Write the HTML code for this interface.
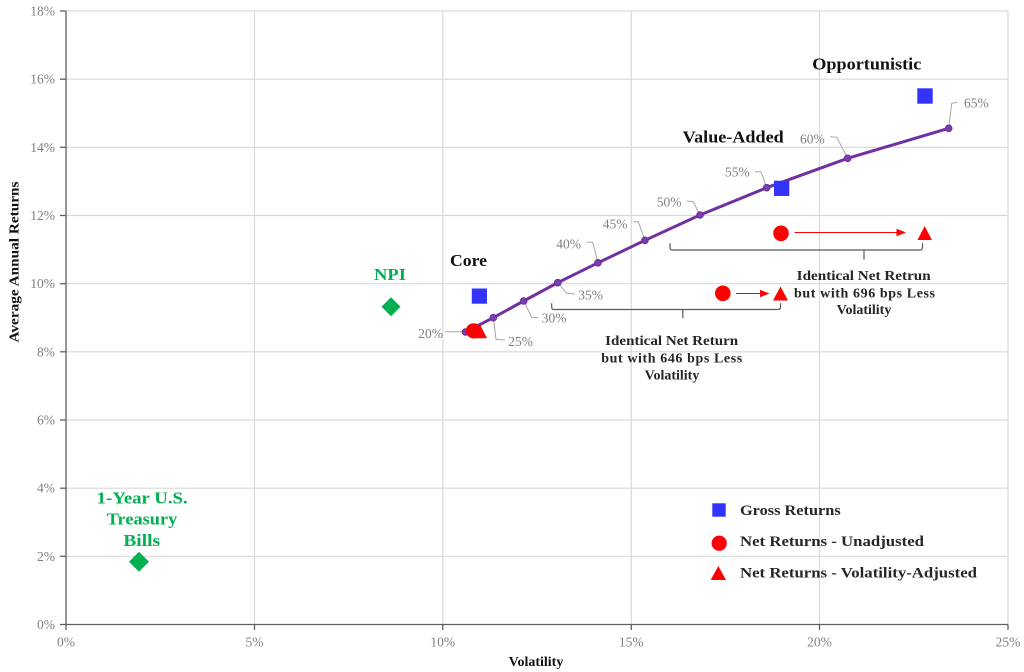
<!DOCTYPE html>
<html>
<head>
<meta charset="utf-8">
<style>
  html,body{margin:0;padding:0;background:#fff;}
  svg{display:block;}
  text{font-family:"Liberation Serif","DejaVu Serif",serif;}
  .tick{fill:#7f7f7f;font-size:13.5px;}
  .pl{fill:#7f7f7f;font-size:13.5px;}
  .cat{fill:#111;font-size:17px;font-weight:bold;}
  .grn{fill:#00B050;font-size:17px;font-weight:bold;}
  .br{fill:#262626;font-size:14px;font-weight:bold;}
  .leg{fill:#262626;font-size:15px;font-weight:bold;}
  .ax{fill:#111;font-size:14px;font-weight:bold;}
</style>
</head>
<body>
<svg width="1024" height="672" viewBox="0 0 1024 672" xmlns="http://www.w3.org/2000/svg">
  <rect width="1024" height="672" fill="#fff"/>
  <!-- gridlines -->
  <g stroke="#d9d9d9" stroke-width="1.2" fill="none">
    <line x1="66" y1="11" x2="1008" y2="11"/>
    <line x1="66" y1="79.2" x2="1008" y2="79.2"/>
    <line x1="66" y1="147.3" x2="1008" y2="147.3"/>
    <line x1="66" y1="215.5" x2="1008" y2="215.5"/>
    <line x1="66" y1="283.7" x2="1008" y2="283.7"/>
    <line x1="66" y1="351.8" x2="1008" y2="351.8"/>
    <line x1="66" y1="420" x2="1008" y2="420"/>
    <line x1="66" y1="488.2" x2="1008" y2="488.2"/>
    <line x1="66" y1="556.3" x2="1008" y2="556.3"/>
    <line x1="254.5" y1="11" x2="254.5" y2="624.5"/>
    <line x1="442.8" y1="11" x2="442.8" y2="624.5"/>
    <line x1="631.3" y1="11" x2="631.3" y2="624.5"/>
    <line x1="819.5" y1="11" x2="819.5" y2="624.5"/>
    <line x1="1008" y1="11" x2="1008" y2="624.5"/>
  </g>
  <!-- axes -->
  <g stroke="#5f5f5f" stroke-width="1.3" fill="none">
    <line x1="66" y1="11" x2="66" y2="624.5"/>
    <line x1="66" y1="624.5" x2="1008" y2="624.5"/>
    <line x1="60" y1="11" x2="66" y2="11"/>
    <line x1="60" y1="79.2" x2="66" y2="79.2"/>
    <line x1="60" y1="147.3" x2="66" y2="147.3"/>
    <line x1="60" y1="215.5" x2="66" y2="215.5"/>
    <line x1="60" y1="283.7" x2="66" y2="283.7"/>
    <line x1="60" y1="351.8" x2="66" y2="351.8"/>
    <line x1="60" y1="420" x2="66" y2="420"/>
    <line x1="60" y1="488.2" x2="66" y2="488.2"/>
    <line x1="60" y1="556.3" x2="66" y2="556.3"/>
    <line x1="60" y1="624.5" x2="66" y2="624.5"/>
    <line x1="66" y1="624.5" x2="66" y2="630"/>
    <line x1="254.5" y1="624.5" x2="254.5" y2="630"/>
    <line x1="442.8" y1="624.5" x2="442.8" y2="630"/>
    <line x1="631.3" y1="624.5" x2="631.3" y2="630"/>
    <line x1="819.5" y1="624.5" x2="819.5" y2="630"/>
    <line x1="1008" y1="624.5" x2="1008" y2="630"/>
  </g>
  <!-- y tick labels -->
  <g class="tick" text-anchor="end">
    <text x="55" y="15.5">18%</text>
    <text x="55" y="83.7">16%</text>
    <text x="55" y="151.8">14%</text>
    <text x="55" y="220">12%</text>
    <text x="55" y="288.2">10%</text>
    <text x="55" y="356.3">8%</text>
    <text x="55" y="424.5">6%</text>
    <text x="55" y="492.7">4%</text>
    <text x="55" y="560.8">2%</text>
    <text x="55" y="629">0%</text>
  </g>
  <!-- x tick labels -->
  <g class="tick" text-anchor="middle">
    <text x="66" y="646.5">0%</text>
    <text x="254.5" y="646.5">5%</text>
    <text x="442.8" y="646.5">10%</text>
    <text x="631.3" y="646.5">15%</text>
    <text x="819.5" y="646.5">20%</text>
    <text x="1008" y="646.5">25%</text>
  </g>
  <!-- axis titles -->
  <text class="ax" x="536" y="666" text-anchor="middle">Volatility</text>
  <text class="ax" transform="translate(18.5,262) rotate(-90)" text-anchor="middle" textLength="161" lengthAdjust="spacingAndGlyphs">Average Annual Returns</text>

  <!-- leader lines -->
  <g stroke="#a6a6a6" stroke-width="1" fill="none">
    <polyline points="445,331.7 463,331.7"/>
    <polyline points="493.3,317.7 496,339.3 505,340"/>
    <polyline points="523.7,301 531.7,317.3 538.3,317.7"/>
    <polyline points="557.7,282.7 566.7,293.3 575,294"/>
    <polyline points="586.7,242.3 592.7,242.3 598,262.7"/>
    <polyline points="633.3,221.7 638.3,221.7 645,240.3"/>
    <polyline points="686.7,201 693.3,201.7 700,215"/>
    <polyline points="755,171.7 761,171.7 766.7,187.7"/>
    <polyline points="830,136.7 836.7,137.3 847.7,158.3"/>
    <polyline points="948.7,128.3 951.7,103.3 957,102.3"/>
  </g>
  <!-- frontier labels -->
  <g class="pl">
    <text x="418.3" y="338">20%</text>
    <text x="508.3" y="346">25%</text>
    <text x="541.7" y="322.3">30%</text>
    <text x="578.3" y="299.3">35%</text>
    <text x="556.3" y="248.3">40%</text>
    <text x="602.7" y="228.3">45%</text>
    <text x="656.7" y="206.7">50%</text>
    <text x="725" y="176.7">55%</text>
    <text x="800" y="143.3">60%</text>
    <text x="964" y="107.7">65%</text>
  </g>

  <!-- frontier line -->
  <path d="M465.5,332 L493.3,317.7 L523.7,301 L557.7,282.7 L598,262.8 L645,240.3 L700,215 L766.7,187.7 L847.7,158.3 L948.7,128.3" fill="none" stroke="#7030A0" stroke-width="3" stroke-linejoin="round"/>
  <g fill="#7a40b0" stroke="#6a2a9a" stroke-width="1">
    <circle cx="465.5" cy="332" r="3.3"/>
    <circle cx="493.3" cy="317.7" r="3.3"/>
    <circle cx="523.7" cy="301" r="3.3"/>
    <circle cx="557.7" cy="282.7" r="3.3"/>
    <circle cx="598" cy="262.8" r="3.3"/>
    <circle cx="645" cy="240.3" r="3.3"/>
    <circle cx="700" cy="215" r="3.3"/>
    <circle cx="766.7" cy="187.7" r="3.3"/>
    <circle cx="847.7" cy="158.3" r="3.3"/>
    <circle cx="948.7" cy="128.3" r="3.3"/>
  </g>

  <!-- gross squares -->
  <g fill="#3333FF">
    <rect x="471.8" y="288.5" width="15.2" height="15.2"/>
    <rect x="774" y="180.7" width="15.3" height="15.3"/>
    <rect x="917.3" y="88.3" width="15.4" height="15.4"/>
  </g>

  <!-- red markers -->
  <g fill="#FF0000">
    <polygon points="479.5,323.5 472,338.3 487,338.3"/>
    <circle cx="473.5" cy="330.8" r="7.6"/>
    <circle cx="722.8" cy="293.3" r="7.8"/>
    <polygon points="780.5,286.5 773,300.5 788,300.5"/>
    <circle cx="781" cy="233.3" r="7.8"/>
    <polygon points="924.7,226 917.5,240 931.8,240"/>
  </g>
  <!-- arrows -->
  <g stroke="#FF0000" stroke-width="1">
    <line x1="736" y1="293.5" x2="762" y2="293.5"/>
    <line x1="794.5" y1="232.5" x2="898" y2="232.5"/>
  </g>
  <g fill="#FF0000">
    <polygon points="760,289.8 769.5,293.5 760,297.2"/>
    <polygon points="896.5,228.8 906,232.5 896.5,236.2"/>
  </g>

  <!-- brackets -->
  <g stroke="#595959" stroke-width="1.2" fill="none">
    <path d="M551.7,303.3 L551.7,307 Q551.7,309.5 554,309.5 L778,309.5 Q780.5,309.5 780.5,307 L780.5,303.3"/>
    <line x1="682.8" y1="309.5" x2="682.8" y2="318"/>
    <path d="M670,243.3 L670,247.5 Q670,250 672.5,250 L920,250 Q922.5,250 922.5,247.5 L922.5,243.3"/>
    <line x1="864" y1="250" x2="864" y2="259.5"/>
  </g>

  <!-- bracket text -->
  <g class="br" text-anchor="middle">
    <text x="671.7" y="345" textLength="133" lengthAdjust="spacingAndGlyphs">Identical Net Return</text>
    <text x="671.7" y="362.7" textLength="141" lengthAdjust="spacing">but with 646 bps Less</text>
    <text x="672" y="379.3">Volatility</text>
    <text x="863.7" y="280" textLength="134" lengthAdjust="spacingAndGlyphs">Identical Net Retrun</text>
    <text x="864.5" y="297.3" textLength="141" lengthAdjust="spacing">but with 696 bps Less</text>
    <text x="864" y="314">Volatility</text>
  </g>

  <!-- category labels -->
  <text class="cat" x="450" y="266" textLength="37" lengthAdjust="spacingAndGlyphs">Core</text>
  <text class="cat" x="682.7" y="142.7" textLength="101" lengthAdjust="spacingAndGlyphs">Value-Added</text>
  <text class="cat" x="812.3" y="69.3" textLength="109" lengthAdjust="spacingAndGlyphs">Opportunistic</text>

  <!-- NPI -->
  <text class="grn" x="374" y="280" textLength="32" lengthAdjust="spacingAndGlyphs">NPI</text>
  <polygon points="391,297.2 400.5,306.7 391,316.2 381.5,306.7" fill="#00B050"/>

  <!-- Treasury -->
  <g class="grn" text-anchor="middle">
    <text x="142.2" y="503.3" textLength="91" lengthAdjust="spacingAndGlyphs">1-Year U.S.</text>
    <text x="142" y="524.3" textLength="70.6" lengthAdjust="spacingAndGlyphs">Treasury</text>
    <text x="141.7" y="546" textLength="36.7" lengthAdjust="spacingAndGlyphs">Bills</text>
  </g>
  <polygon points="139,551.7 149,561.7 139,571.7 129,561.7" fill="#00B050"/>

  <!-- legend -->
  <rect x="712.3" y="503.3" width="13.4" height="13.4" fill="#3333FF"/>
  <circle cx="719.2" cy="543.2" r="7.6" fill="#FF0000"/>
  <polygon points="718.3,566 710.7,580 726,580" fill="#FF0000"/>
  <g class="leg">
    <text x="740" y="515" textLength="100.7" lengthAdjust="spacingAndGlyphs">Gross Returns</text>
    <text x="740" y="546" textLength="184" lengthAdjust="spacingAndGlyphs">Net Returns - Unadjusted</text>
    <text x="740" y="577.3" textLength="237" lengthAdjust="spacingAndGlyphs">Net Returns - Volatility-Adjusted</text>
  </g>
</svg>
</body>
</html>
